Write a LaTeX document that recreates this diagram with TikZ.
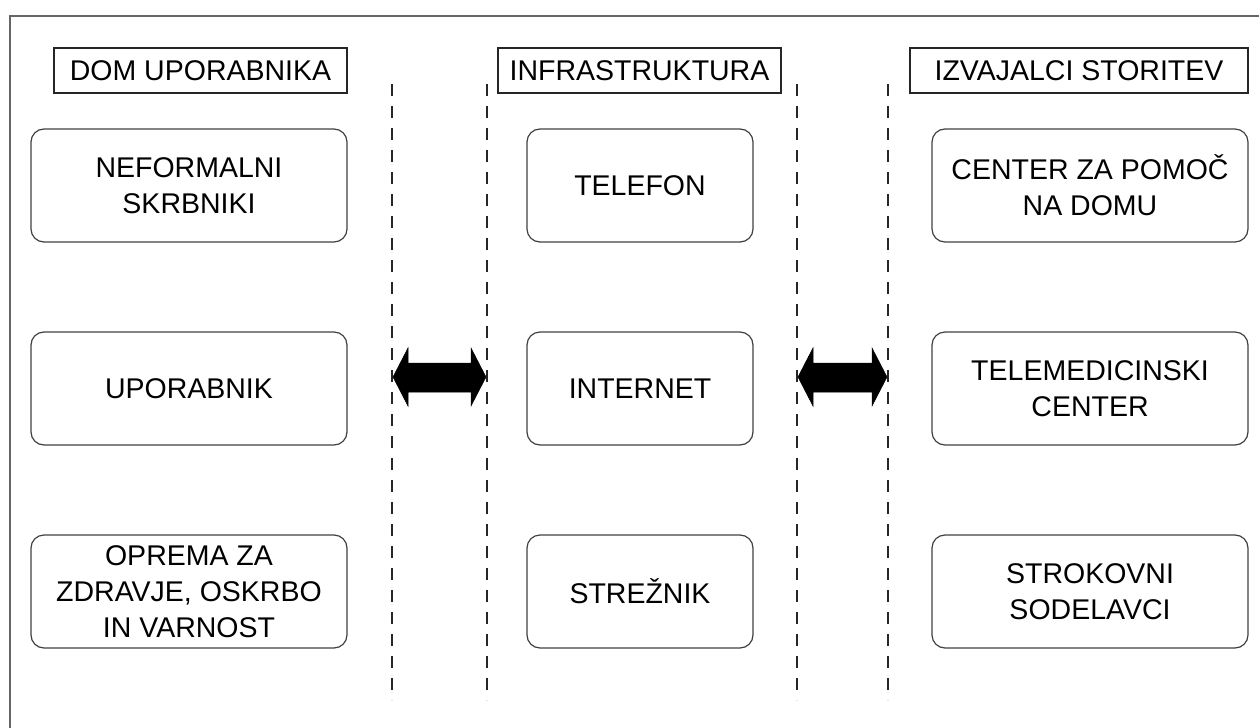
\documentclass[tikz,border=0pt]{standalone}
\usepackage{fontspec}
\setmainfont{Liberation Sans}
\begin{document}
\begin{tikzpicture}[x=1pt,y=-1pt,
  lbl/.style={font=\fontsize{28.5}{36}\selectfont, align=center, text=black, inner sep=0pt},
  titlebox/.style={lbl, draw=black!85, line width=1.4pt, minimum height=45, rectangle},
  itembox/.style={lbl, draw=black!75, line width=1.2pt, rounded corners=13pt, minimum width=#1, minimum height=113},
  divider/.style={draw=black!85, line width=2.2pt, dash pattern=on 12pt off 10pt},
  frame/.style={draw=black!60, line width=1.8pt},
  bigarrow/.style={fill=black, draw=black, line width=0.5pt}
]
\useasboundingbox (0,0) rectangle (1259,728);
% outer frame (only left and top edges visible)
\draw[frame] (10,740) -- (10,16) -- (1270,16);

% titles
\node[titlebox, minimum width=293] (tdom) at (200.5,70.5) {DOM UPORABNIKA};
\node[titlebox, minimum width=283] (tinf) at (639.5,70.5) {INFRASTRUKTURA};
\node[titlebox, minimum width=338] (tizv) at (1079,70.5) {IZVAJALCI STORITEV};

% left column
\node[itembox=316] (nef) at (189,185.5) {NEFORMALNI\\SKRBNIKI};
\node[itembox=316] (upo) at (189,388.5) {UPORABNIK};
\node[itembox=316] (opr) at (189,591.5) {OPREMA ZA\\ZDRAVJE, OSKRBO\\IN VARNOST};

% middle column
\node[itembox=226] (tel) at (640,185.5) {TELEFON};
\node[itembox=226] (int) at (640,388.5) {INTERNET};
\node[itembox=226] (str) at (640,591.5) {STREŽNIK};

% right column
\node[itembox=316] (cen) at (1090,185.5) {CENTER ZA POMOČ\\NA DOMU};
\node[itembox=316] (tmc) at (1090,388.5) {TELEMEDICINSKI\\CENTER};
\node[itembox=316] (sod) at (1090,591.5) {STROKOVNI\\SODELAVCI};

% dividers
\coordinate (d1t) at (392,84);  \coordinate (d1b) at (392,700);
\coordinate (d2t) at (487,84);  \coordinate (d2b) at (487,700);
\coordinate (d3t) at (797,84);  \coordinate (d3b) at (797,700);
\coordinate (d4t) at (888,84);  \coordinate (d4b) at (888,700);
\draw[divider] (d1t) -- (d1b);
\draw[divider] (d2t) -- (d2b);
\draw[divider] (d3t) -- (d3b);
\draw[divider] (d4t) -- (d4b);

% double arrows
\draw[bigarrow] (393,377) -- (408,348) -- (408,363) -- (471,363) -- (471,348) -- (486,377)
  -- (471,406) -- (471,392) -- (408,392) -- (408,406) -- cycle;
\draw[bigarrow] (798,377) -- (813,348) -- (813,363) -- (872,363) -- (872,348) -- (887,377)
  -- (872,406) -- (872,392) -- (813,392) -- (813,406) -- cycle;
\end{tikzpicture}
\end{document}
